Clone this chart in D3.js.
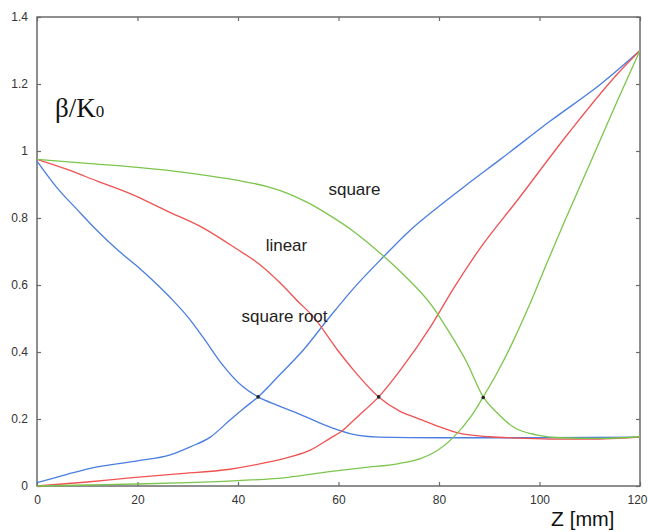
<!DOCTYPE html>
<html><head><meta charset="utf-8">
<script src="https://cdn.jsdelivr.net/npm/d3@7"></script>
<style>body{margin:0;background:#fff}svg{display:block}</style>
</head><body>
<svg id="c" width="648" height="532"></svg>
<script>
// ---- data ----
const xTicks = [0, 20, 40, 60, 80, 100, 120];
const yTicks = [0, 0.2, 0.4, 0.6, 0.8, 1, 1.2, 1.4];
const yTickLabels = ["0", "0.2", "0.4", "0.6", "0.8", "1", "1.2", "1.4"];

// square root (blue)
const sqrtDownZ = [0, 4, 8, 12, 16, 20, 24, 27, 30, 33, 36.5, 41, 44, 48, 52, 56, 60, 64, 68, 80, 100, 120];
const sqrtDownV = [0.97, 0.89, 0.825, 0.762, 0.705, 0.655, 0.60, 0.555, 0.505, 0.445, 0.37, 0.296, 0.266, 0.24, 0.216, 0.19, 0.167, 0.151, 0.146, 0.144, 0.144, 0.146];
const sqrtUpZ = [0, 6, 12, 20, 26.5, 30.5, 34.5, 38.4, 41, 44, 48.5, 53, 58, 63, 69, 74, 80, 86, 92.2, 102.2, 112.2, 120];
const sqrtUpV = [0.01, 0.035, 0.057, 0.075, 0.093, 0.117, 0.146, 0.197, 0.23, 0.266, 0.335, 0.406, 0.50, 0.59, 0.685, 0.76, 0.835, 0.905, 0.975, 1.09, 1.20, 1.30];

// linear (red)
const linDownZ = [0, 6, 12, 19, 26, 32.5, 40, 44, 48.4, 52, 55, 59.8, 63, 68, 72, 76.3, 80.3, 84, 90, 96, 103, 110, 120];
const linDownV = [0.975, 0.945, 0.91, 0.87, 0.82, 0.775, 0.705, 0.665, 0.606, 0.55, 0.505, 0.406, 0.346, 0.266, 0.225, 0.199, 0.176, 0.158, 0.147, 0.143, 0.14, 0.14, 0.146];
const linUpZ = [0, 10, 18.5, 28, 38.4, 45, 50.4, 54.4, 58.4, 60.4, 64, 68, 72.3, 78.3, 82.9, 88.2, 95.6, 105.6, 115.5, 120];
const linUpV = [0.0, 0.012, 0.024, 0.036, 0.05, 0.068, 0.087, 0.107, 0.143, 0.161, 0.21, 0.266, 0.346, 0.475, 0.59, 0.71, 0.853, 1.05, 1.23, 1.30];

// square (green)
const sqDownZ = [0, 10, 20, 30, 40, 46, 50, 54, 58, 63, 68.3, 73, 78.5, 82, 85.5, 88.8, 91.6, 94.8, 99.6, 104, 112, 120];
const sqDownV = [0.975, 0.963, 0.951, 0.935, 0.912, 0.893, 0.873, 0.845, 0.81, 0.76, 0.695, 0.63, 0.54, 0.46, 0.37, 0.266, 0.218, 0.176, 0.152, 0.144, 0.142, 0.147];
const sqUpZ = [0, 10, 20, 30, 40, 50, 57.8, 65, 72, 76.3, 79, 82.9, 86.3, 88.8, 92, 95, 98, 101.6, 105, 108.8, 112, 115.5, 120];
const sqUpV = [0.0, 0.003, 0.006, 0.01, 0.016, 0.026, 0.042, 0.055, 0.067, 0.082, 0.1, 0.146, 0.206, 0.266, 0.35, 0.44, 0.54, 0.67, 0.79, 0.92, 1.03, 1.15, 1.30];

const crossZ = [44, 68, 88.8];
const crossV = [0.266, 0.266, 0.264];

const curveLabels = ["square", "linear", "square root"];
const curveLabelZ = [58, 45.5, 40.7];
const curveLabelV = [0.887, 0.718, 0.507];

const colors = {blue: "#4a7ee0", red: "#f05252", green: "#7cc54c"};

// ---- chart ----
const svg = d3.select("#c");
const L = 37, R = 640, T = 17, B = 486;
const x = d3.scaleLinear().domain([0, 120]).range([L, R]);
const y = d3.scaleLinear().domain([0, 1.4]).range([B, T]);

// frame
svg.append("rect").attr("x", L).attr("y", T).attr("width", R - L).attr("height", B - T)
  .attr("fill", "none").attr("stroke", "#6a6a6a").attr("stroke-width", 1.5);

const tickLen = 4;
const axB = svg.append("g").attr("transform", `translate(0,${B})`)
  .call(d3.axisBottom(x).tickValues(xTicks).tickSizeInner(-tickLen).tickSizeOuter(0).tickPadding(9));
const axT = svg.append("g").attr("transform", `translate(0,${T})`)
  .call(d3.axisTop(x).tickValues(xTicks).tickSizeInner(-tickLen).tickSizeOuter(0).tickFormat(""));
const axL = svg.append("g").attr("transform", `translate(${L},0)`)
  .call(d3.axisLeft(y).tickValues(yTicks).tickSizeInner(-tickLen).tickSizeOuter(0).tickPadding(9)
    .tickFormat((d, i) => yTickLabels[i]));
const axR = svg.append("g").attr("transform", `translate(${R},0)`)
  .call(d3.axisRight(y).tickValues(yTicks).tickSizeInner(-tickLen).tickSizeOuter(0).tickFormat(""));
[axB, axT, axL, axR].forEach(a => {
  a.select(".domain").remove();
  a.selectAll(".tick line").attr("stroke", "#6a6a6a").attr("stroke-width", 1.2);
  a.selectAll("text").attr("fill", "#333").style("font-family", "Arial, 'Liberation Sans', sans-serif").style("font-size", "12px");
});
// keep the last x label inside the page
axB.selectAll(".tick text").filter(d => d === 120).attr("text-anchor", "end").attr("x", 7);

// curves
const line = d3.line().x(d => x(d[0])).y(d => y(d[1])).curve(d3.curveMonotoneX);
const series = [
  [sqrtDownZ, sqrtDownV, colors.blue], [sqrtUpZ, sqrtUpV, colors.blue],
  [linDownZ, linDownV, colors.red], [linUpZ, linUpV, colors.red],
  [sqDownZ, sqDownV, colors.green], [sqUpZ, sqUpV, colors.green]
];
series.forEach(([zs, vs, c]) => {
  svg.append("path").datum(zs.map((z, i) => [z, vs[i]]))
    .attr("d", line).attr("fill", "none").attr("stroke", c).attr("stroke-width", 1.3);
});

// crossing marks
svg.selectAll("circle.cross").data(crossZ).join("circle").attr("class", "cross")
  .attr("cx", d => x(d)).attr("cy", (d, i) => y(crossV[i])).attr("r", 1.8).attr("fill", "#222");

// curve labels
svg.selectAll("text.cl").data(curveLabels).join("text").attr("class", "cl")
  .attr("x", (d, i) => x(curveLabelZ[i])).attr("y", (d, i) => y(curveLabelV[i]))
  .attr("dy", "0.35em")
  .attr("fill", "#222").style("font-family", "Arial, 'Liberation Sans', sans-serif").style("font-size", "17px")
  .text(d => d);

// y title
const yt = svg.append("text").attr("x", 55).attr("y", 117)
  .style("font-family", "'Liberation Serif', 'Times New Roman', serif").attr("fill", "#111");
yt.append("tspan").style("font-size", "27px").text("β/K");
yt.append("tspan").style("font-size", "17px").text("0");

// x title
const xt = svg.append("text").attr("x", 551).attr("y", 526)
  .style("font-family", "Arial, 'Liberation Sans', sans-serif").attr("fill", "#111");
xt.append("tspan").style("font-size", "21px").text("Z");
xt.append("tspan").style("font-size", "20px").attr("dx", 6).text("[mm]");
</script>
</body></html>
